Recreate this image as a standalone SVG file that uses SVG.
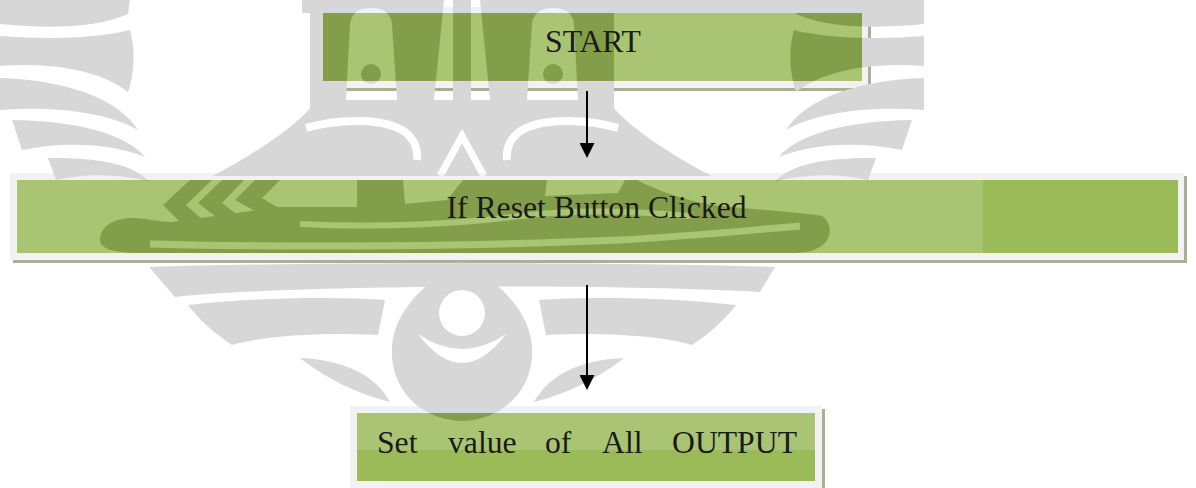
<svg xmlns="http://www.w3.org/2000/svg" width="1196" height="488" viewBox="0 0 1196 488">
<style>
  .shadow{fill:#a9b093}
  .frame{fill:#f2f2f2}
  .base{fill:#9bbb59}
  .light{fill:#a9c574}
  .ink{fill:#829e4a}
  .label{font-family:"Liberation Serif","Times New Roman",serif;font-size:31.7px;fill:#1a1a1a}
  .conn{stroke:#000;stroke-width:2;fill:none}
</style>
<defs>
  <g id="wing" fill="#fff">
    <path d="M0,0 H130 L128,14 C100,26 60,30 0,24 Z"/>
    <path d="M0,36 C50,40 100,38 130,30 C136,50 134,75 128,92 C100,70 50,62 0,66 Z"/>
    <path d="M0,78 C65,80 118,98 138,130 C105,112 55,106 0,110 Z"/>
    <path d="M12,120 C78,121 126,134 145,157 C112,144 68,141 22,150 Z"/>
    <path d="M48,158 C102,157 136,166 148,181 C119,174 86,173 56,180 Z"/>
  </g>
  <g id="lowL" fill="#fff">
    <path d="M188,305 C250,298 330,296 385,300 L378,335 C320,332 262,336 232,345 C212,332 198,318 188,305 Z"/>
    <path d="M300,358 C345,360 375,375 390,402 C358,394 328,380 300,358 Z"/>
  </g>
  <g id="wm">
    <use href="#wing"/>
    <use href="#wing" transform="matrix(-1 0 0 1 924 0)"/>
    <g fill="#fff">
      <path d="M302,0 H872 V13 H614 V108 C632,130 680,160 712,176 H212 C244,160 292,130 310,108 V13 H302 Z"/>
      <path d="M163,205 L190,180 H212 L186,205 L212,228 L190,232 Z"/>
      <path d="M198,203 L222,180 H244 L222,203 L247,222 L228,226 Z"/>
      <path d="M235,200 L255,180 H280 L262,198 L290,215 L268,218 Z"/>
      <ellipse cx="380" cy="195" rx="22" ry="13"/>
      <path d="M100,240 C100,226 115,217 135,218 C150,219 160,222 172,222 L280,207 H357 V180 H637 C660,192 690,202 720,206 C760,210 800,212 822,216 C832,222 832,236 824,244 C816,251 805,253 790,253 H140 C115,253 100,249 100,240 Z"/>
      <path d="M149,267 C300,262 620,262 775,267 L760,292 C620,284 300,284 175,297 Z"/>
      <path d="M462,262 C510,288 534,320 532,356 C530,394 500,420 462,421 C424,420 394,394 392,356 C390,320 414,288 462,262 Z"/>
    </g>
    <use href="#lowL"/>
    <use href="#lowL" transform="matrix(-1 0 0 1 924 0)"/>
    <g fill="#000">
      <path d="M346,100 L350,24 Q352,8 371,8 Q390,8 392,24 L397,100 Z"/>
      <path d="M578,100 L574,24 Q572,8 553,8 Q534,8 532,24 L527,100 Z"/>
      <path d="M444,0 H453 V100 H434 Z"/>
      <path d="M471,0 H480 L490,100 H471 Z"/>
      <path d="M403,180 H463 L447,200 L405,204 Z"/>
      <path d="M547,180 H625 L618,193 L545,196 Z"/>
      <circle cx="462" cy="313" r="23"/>
      <path d="M418,334 Q462,392 506,334 Q462,364 418,334 Z"/>
    </g>
    <g fill="none" stroke="#000">
      <path stroke-width="8" d="M306,128 C340,118 385,118 405,132 C415,140 418,150 417,160"/>
      <path stroke-width="8" d="M618,128 C584,118 539,118 519,132 C509,140 506,150 507,160"/>
      <path stroke-width="7" d="M440,176 L462,136 L484,176"/>
      <path stroke-width="7" d="M150,244 C300,248 480,246 620,240 C680,237 730,232 800,226"/>
      <path stroke-width="6" d="M300,224 C380,228 460,224 520,216 C570,210 620,210 690,216"/>
    </g>
    <g fill="#fff">
      <circle cx="371" cy="74" r="10"/>
      <circle cx="553" cy="74" r="10"/>
    </g>
  </g>
  <mask id="mIn" maskUnits="userSpaceOnUse" x="0" y="0" width="1196" height="488">
    <use href="#wm"/>
  </mask>
  <mask id="mOut" maskUnits="userSpaceOnUse" x="0" y="0" width="1196" height="488">
    <use href="#wm"/>
    <g fill="#000">
      <rect x="323" y="13" width="539" height="68"/>
      <rect x="17" y="180" width="1161" height="73"/>
      <rect x="357" y="413" width="458" height="68"/>
    </g>
  </mask>
  <clipPath id="cStart"><rect x="323" y="13" width="539" height="68"/></clipPath>
  <clipPath id="cReset"><rect x="17" y="180" width="1161" height="73"/></clipPath>
  <clipPath id="cSet"><rect x="357" y="413" width="458" height="68"/></clipPath>
  <marker id="arrow" markerUnits="userSpaceOnUse" viewBox="0 0 15 15" markerWidth="15" markerHeight="15" refX="7" refY="7.5" orient="auto">
    <path d="M0,0 L15,7.5 L0,15 Z" fill="#000"/>
  </marker>
</defs>

<rect x="0" y="0" width="1196" height="488" fill="#fff"/>

<g id="node-start">
  <rect class="shadow" x="321" y="10" width="550" height="81"/>
  <rect class="frame" x="318" y="7" width="550" height="81"/>
  <rect class="light" x="323" y="13" width="539" height="68"/>
  <rect class="ink" x="0" y="0" width="1196" height="488" mask="url(#mIn)" clip-path="url(#cStart)"/>
  <text class="label" x="593" y="52" text-anchor="middle">START</text>
</g>

<g id="node-reset">
  <rect class="shadow" x="13" y="176" width="1174" height="87"/>
  <rect class="frame" x="10" y="173" width="1174" height="87"/>
  <rect class="base" x="17" y="180" width="1161" height="73"/>
  <rect class="light" x="17" y="180" width="966" height="73"/>
  <rect class="ink" x="0" y="0" width="1196" height="488" mask="url(#mIn)" clip-path="url(#cReset)"/>
  <text class="label" x="596.5" y="218" text-anchor="middle">If Reset Button Clicked</text>
</g>

<g id="node-set">
  <rect class="shadow" x="353" y="409" width="472" height="84"/>
  <rect class="frame" x="350" y="406" width="472" height="84"/>
  <rect class="base" x="357" y="413" width="458" height="68"/>
  <rect class="light" x="357" y="413" width="458" height="37"/>
  <rect class="ink" x="0" y="0" width="1196" height="488" mask="url(#mIn)" clip-path="url(#cSet)"/>
  <text class="label" y="453"><tspan x="377">Set</tspan><tspan x="448">value</tspan><tspan x="545">of</tspan><tspan x="602">All</tspan><tspan x="672">OUTPUT</tspan></text>
</g>

<g id="watermark">
  <rect x="0" y="0" width="1196" height="488" fill="#d7d7d7" mask="url(#mOut)"/>
</g>

<g id="connectors">
  <line class="conn" x1="587" y1="91" x2="587" y2="150" marker-end="url(#arrow)"/>
  <line class="conn" x1="587" y1="285" x2="587" y2="382" marker-end="url(#arrow)"/>
</g>
</svg>
